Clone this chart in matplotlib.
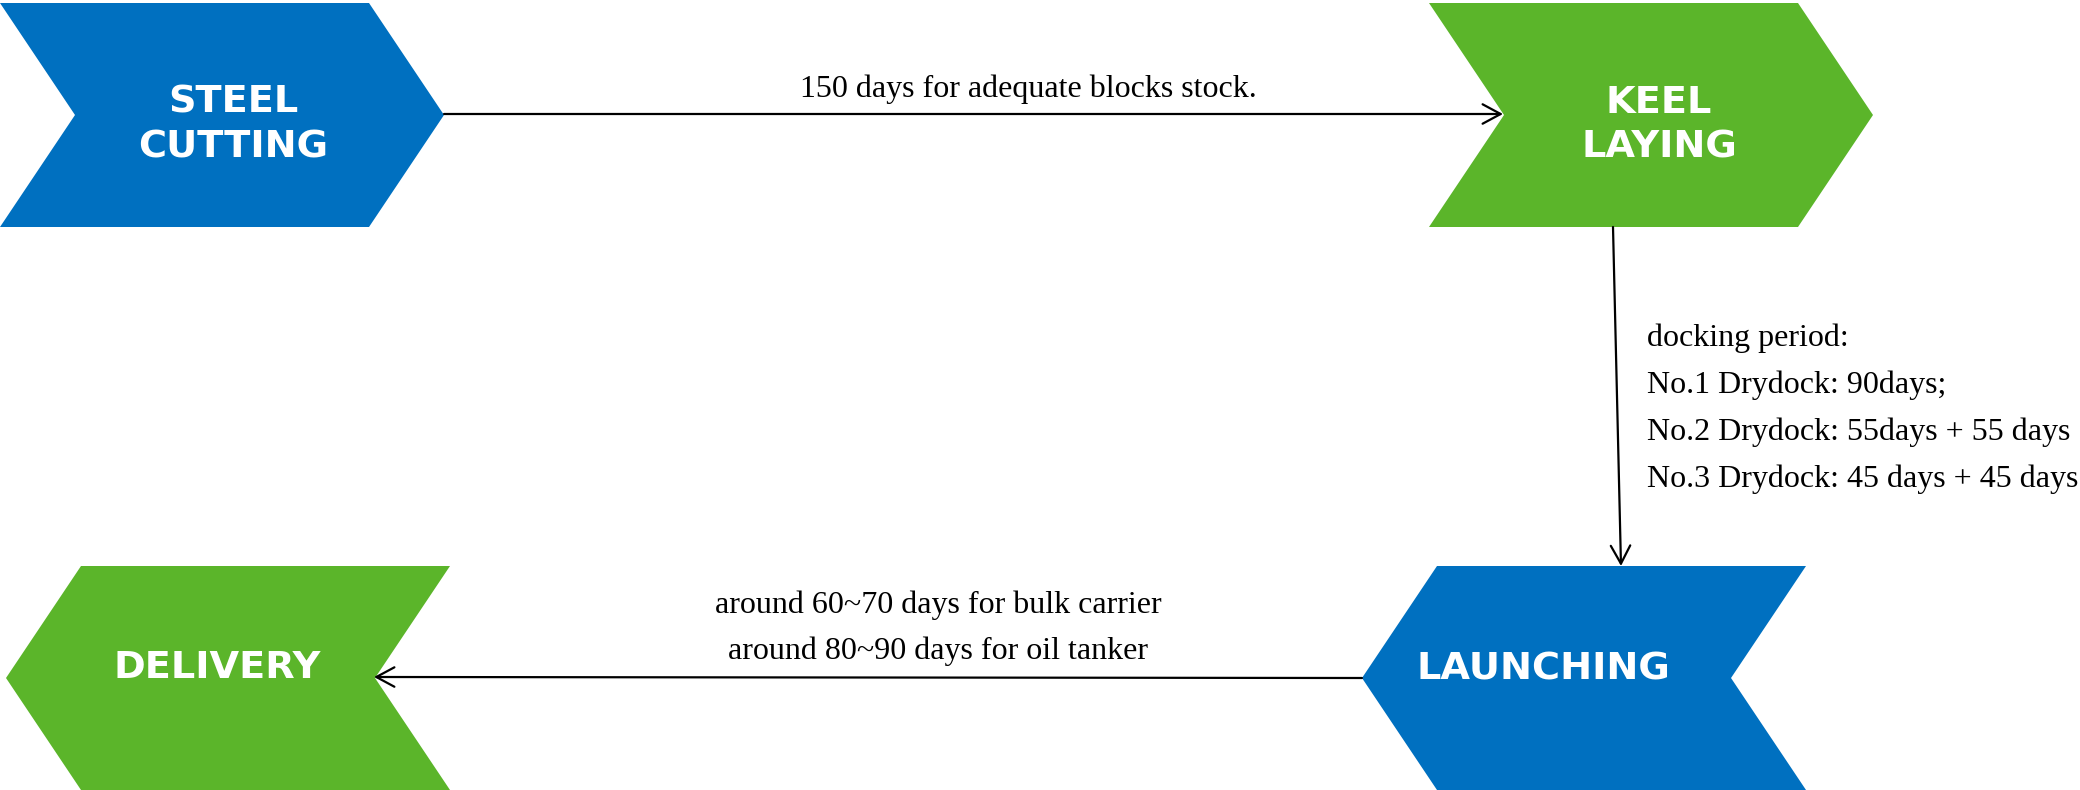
import matplotlib
matplotlib.use("Agg")
import matplotlib.pyplot as plt
from matplotlib.patches import Polygon

# stage labels and colours
stages = ["STEEL\nCUTTING", "KEEL\nLAYING", "LAUNCHING", "DELIVERY"]
stage_colors = ["#0070C0", "#5BB52A", "#0070C0", "#5BB52A"]
stage_dirs = ["right", "right", "left", "left"]

top_note = "150 days for adequate blocks stock."
dock_notes = ["docking period:",
              "No.1 Drydock: 90days;",
              "No.2 Drydock: 55days + 55 days",
              "No.3 Drydock: 45 days + 45 days"]
bottom_notes = ["around 60~70 days for bulk carrier",
                "around 80~90 days for oil tanker"]

# layout in pixel units (y grows downward)
W, H = 2080, 790
box_left = [0, 1429, 1362, 6]      # leftmost x of each chevron
box_top = [3, 3, 566, 566]
box_w = 444
box_h = 224
point = 75
label_xy = [(233, 125), (1659, 125), (1543, 669), (217, 668)]


def chevron(x0, y0, direction):
    ym = y0 + box_h / 2
    y1 = y0 + box_h
    if direction == "right":
        return [(x0, y0), (x0 + box_w - point, y0), (x0 + box_w, ym),
                (x0 + box_w - point, y1), (x0, y1), (x0 + point, ym)]
    return [(x0 + point, y0), (x0 + box_w, y0), (x0 + box_w - point, ym),
            (x0 + box_w, y1), (x0 + point, y1), (x0, ym)]


fig = plt.figure(figsize=(W / 100, H / 100), dpi=100)
ax = fig.add_axes([0, 0, 1, 1])
ax.set_xlim(0, W)
ax.set_ylim(H, 0)
ax.axis("off")

for i, name in enumerate(stages):
    ax.add_patch(Polygon(chevron(box_left[i], box_top[i], stage_dirs[i]),
                         closed=True, facecolor=stage_colors[i], edgecolor="none"))
    ax.text(label_xy[i][0], label_xy[i][1], name, color="white", fontsize=27.5,
            fontweight="bold", family="DejaVu Sans", ha="center", va="center",
            ma="center", linespacing=1.32)

arrow_kw = dict(arrowstyle="->,head_length=1.3,head_width=0.7", lw=1.6,
                color="black", shrinkA=0, shrinkB=0)

# steel cutting -> keel laying
ax.annotate("", xy=(1503, 114), xytext=(444, 114), arrowprops=arrow_kw)
# keel laying -> launching
ax.annotate("", xy=(1621, 566), xytext=(1613, 227), arrowprops=arrow_kw)
# launching -> delivery
ax.annotate("", xy=(374, 677), xytext=(1362, 678), arrowprops=arrow_kw)

serif = ["Liberation Serif", "DejaVu Serif"]
ax.text(1028, 97, top_note, family=serif, fontsize=23, ha="center", va="baseline")

for k, line in enumerate(dock_notes):
    ax.text(1647, 346 + 47 * k, line, family=serif, fontsize=23,
            ha="left", va="baseline")

for k, line in enumerate(bottom_notes):
    ax.text(938, 613 + 46 * k, line, family=serif, fontsize=23,
            ha="center", va="baseline")

fig.savefig("out.png", dpi=100)
